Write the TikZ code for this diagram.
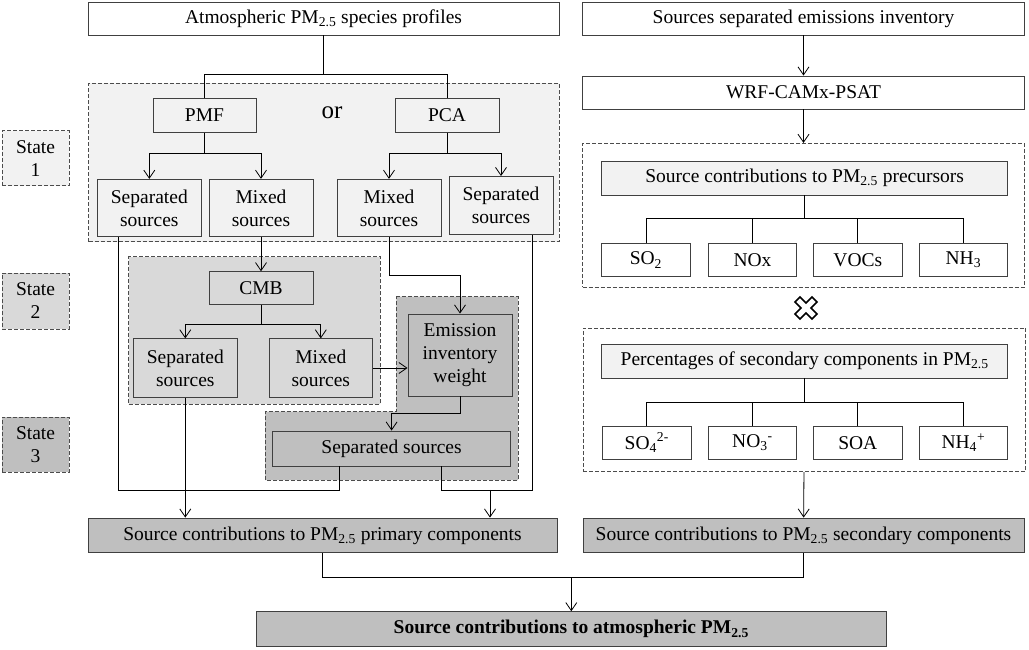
\documentclass[tikz,border=0pt]{standalone}
\usepackage{fontspec}
\setmainfont{Liberation Serif}
\usetikzlibrary{arrows.meta,positioning,calc}
\definecolor{lgray}{HTML}{F2F2F2}
\definecolor{mgray}{HTML}{D9D9D9}
\definecolor{dgray}{HTML}{BFBFBF}
\newcommand{\pmtf}{PM\textsubscript{2.5}}

\begin{document}
\begin{tikzpicture}[x=1pt,y=-1pt,
  box/.style={draw=black!75, line width=0.9pt, inner sep=0pt, align=center, font=\fontsize{19.5}{23}\selectfont},
  grp/.style={draw=black!70, line width=0.8pt, dash pattern=on 4pt off 2pt, inner sep=0pt},
  sz/.style 2 args={minimum width=#1pt, minimum height=#2pt},
  lnk/.style={line width=0.8pt},
  arr/.style={lnk, -{Straight Barb[length=8pt,width=11pt]}}]
\useasboundingbox (0,0) rectangle (1029,650);
\node[grp, fill=lgray, sz={470.4}{158.4}] (g1) at (323.8,162.5) {};
\node[grp, fill=mgray, sz={251.4}{147.3}] (g2) at (254.3,330.3) {};
\filldraw[grp, fill=dgray] (396.4,296.7) -- (518,296.7) -- (518,480) -- (265,480) -- (265,411.7) -- (396.4,411.7) -- cycle;
\node[grp, sz={441.6}{144}] (g3) at (803.5,215.3) {};
\node[grp, sz={442.4}{143.7}] (g4) at (804.5,399.8) {};
\node[box, grp, fill=lgray, sz={67}{55}] (st1) at (35.5,158.3) {State\\1};
\node[box, grp, fill=mgray, sz={67}{56}] (st2) at (35.5,301) {State\\2};
\node[box, grp, fill=dgray, sz={67}{55}] (st3) at (35.5,444.5) {State\\3};
\node[box, sz={471}{33}] (atm) at (323.5,18.5) {Atmospheric \pmtf{} species profiles};
\node[box, fill=lgray, sz={103}{33.6}] (pmf) at (204.5,115.5) {PMF};
\node[box, fill=lgray, sz={104}{33.6}] (pca) at (447,115.5) {PCA};
\node[font=\fontsize{25}{28}\selectfont] (or) at (332,113) {or};
\node[box, fill=lgray, sz={103.5}{57.4}] (sepA) at (149.3,208) {Separated\\sources};
\node[box, fill=lgray, sz={104}{57.4}] (mixA) at (261,208) {Mixed\\sources};
\node[box, fill=lgray, sz={104}{57.4}] (mixB) at (389,208) {Mixed\\sources};
\node[box, fill=lgray, sz={104}{58}] (sepB) at (501,205.5) {Separated\\sources};
\node[box, fill=mgray, sz={104}{32.6}] (cmb) at (261,288) {CMB};
\node[box, fill=mgray, sz={104.5}{58.3}] (sepC) at (185.3,368) {Separated\\sources};
\node[box, fill=mgray, sz={103.5}{58.3}] (mixC) at (320.8,368) {Mixed\\sources};
\node[box, fill=dgray, sz={104}{82}] (emi) at (460,355) {Emission\\inventory\\weight};
\node[box, fill=dgray, sz={238}{35}] (sepD) at (391.6,448.5) {Separated sources};
\node[box, fill=dgray, sz={469}{34.7}] (prim) at (322.5,535.4) {Source contributions to \pmtf{} primary components};
\node[box, sz={442}{33}] (sei) at (803.5,18.5) {Sources separated emissions inventory};
\node[box, sz={442}{33}] (wrf) at (803.5,92.5) {WRF-CAMx-PSAT};
\node[box, fill=lgray, sz={406}{34}] (pre) at (804.7,178) {Source contributions to \pmtf{} precursors};
\node[box, sz={88.3}{33.4}] (so2) at (645.9,260) {SO\textsubscript{2}};
\node[box, sz={88.4}{33.4}] (nox) at (752.5,260) {NOx};
\node[box, sz={89}{33.4}] (voc) at (857.8,260) {VOCs};
\node[box, sz={88.7}{33.4}] (nh3) at (963.4,260) {NH\textsubscript{3}};
\node[box, fill=lgray, sz={406}{34}] (pct) at (804.7,361) {Percentages of secondary components in \pmtf};
\node[box, sz={88.3}{33.3}] (so4) at (646.8,442.7) {SO\textsubscript{4}\textsuperscript{2-}};
\node[box, sz={88.4}{33.3}] (no3) at (752.5,442.7) {NO\textsubscript{3}\textsuperscript{-}};
\node[box, sz={89}{33.3}] (soa) at (857.8,442.7) {SOA};
\node[box, sz={88.7}{33.3}] (nh4) at (963.4,442.7) {NH\textsubscript{4}\textsuperscript{+}};
\node[box, fill=dgray, sz={441}{34.7}] (sec) at (803.5,535.4) {Source contributions to \pmtf{} secondary components};
\node[box, fill=dgray, sz={630.5}{35}] (fin) at (571.3,629.2) {\textbf{Source contributions to atmospheric \pmtf}};
\begin{scope}[shift={(806,308)}, rotate=45]
\draw[line width=1.6pt, fill=white] (3.5,-12) -- (3.5,-3.5) -- (12,-3.5) -- (12,3.5) -- (3.5,3.5) -- (3.5,12) -- (-3.5,12) -- (-3.5,3.5) -- (-12,3.5) -- (-12,-3.5) -- (-3.5,-3.5) -- (-3.5,-12) -- cycle;
\end{scope}
\draw[lnk] (atm.south) -- ++(0,39) coordinate (j1);
\draw[lnk] (pmf.north) |- (j1) -| (pca.north);
\draw[arr] (pmf.south) -- ++(0,21) -| (sepA.north);
\draw[arr] (pmf.south) -- ++(0,21) -| (mixA.north);
\draw[arr] (pca.south) -- ++(0,21) -| (mixB.north);
\draw[arr] (pca.south) -- ++(0,21) -| (sepB.north);
\draw[arr] (mixA) -- (cmb);
\draw[arr] (cmb.south) -- ++(0,20) -| (sepC.north);
\draw[arr] (cmb.south) -- ++(0,20) -| (mixC.north);
\draw[arr] (mixC.east) -- (mixC.east -| emi.west);
\draw[arr] (mixB.south) -- ++(0,38) -| (emi.north);
\draw[arr] (emi.south) -- ++(0,17) -| (sepD.north);
\coordinate (a1) at ($(sepA.south west)!0.2!(sepA.south east)$);
\coordinate (b1) at ($(sepB.south west)!0.8!(sepB.south east)$);
\coordinate (d1) at ($(sepD.south west)!0.28!(sepD.south east)$);
\coordinate (d2) at ($(sepD.south west)!0.71!(sepD.south east)$);
\coordinate (j2) at ($(sepD.south)+(98.4,23.5)$);
\draw[lnk] (a1) |- (d1 |- j2) -- (d1);
\draw[lnk] (d2) |- (j2) -| (b1);
\draw[arr] (j2) -- (j2 |- prim.north);
\draw[arr] (sepC.south) -- (sepC.south |- prim.north);
\draw[arr] (sei) -- (wrf);
\draw[arr] (wrf) -- (g3);
\draw[lnk] (pre.south) -- ++(0,23.3) coordinate (r1);
\draw[lnk] (so2.north) |- (r1) -| (nh3.north);
\draw[lnk] (nox.north) -- (nox.north |- r1);
\draw[lnk] (voc.north) -- (voc.north |- r1);
\draw[lnk] (pct.south) -- ++(0,24) coordinate (r2);
\draw[lnk] (so4.north) |- (r2) -| (nh4.north);
\draw[lnk] (no3.north) -- (no3.north |- r2);
\draw[lnk] (soa.north) -- (soa.north |- r2);
\draw[arr] (g4) -- (sec);
\coordinate (j3) at ($(fin.north)+(0,-33.4)$);
\draw[lnk] (prim.south) |- (j3) -| (sec.south);
\draw[arr] (j3) -- (fin.north);
\end{tikzpicture}
\end{document}
